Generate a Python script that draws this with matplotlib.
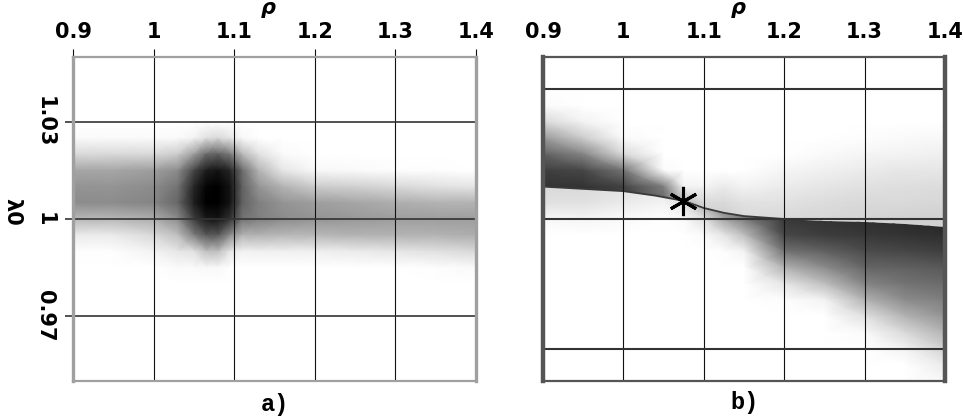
import numpy as np
import matplotlib
matplotlib.use("Agg")
import matplotlib.pyplot as plt
from matplotlib.patches import Polygon

# ---- data ---------------------------------------------------------------
X_TICKS = [0.9, 1.0, 1.1, 1.2, 1.3, 1.4]
X_TICK_LABELS = ["0.9", "1", "1.1", "1.2", "1.3", "1.4"]
A_Y_TICKS = [0.97, 1.0, 1.03]
A_Y_TICK_LABELS = ["0.97", "1", "1.03"]
B_Y_TICKS = [0.96, 1.0, 1.04]

# panel a: darkness (0 white .. 1 black) on an irregular grid, rows = A_Y
A_X = [0.9, 0.95, 1.0, 1.03, 1.05, 1.065, 1.08, 1.095, 1.11, 1.13, 1.16, 1.2, 1.25, 1.3, 1.35, 1.4]
A_Y = [1.05, 1.03, 1.025, 1.02, 1.015, 1.01, 1.005, 1.0, 0.995, 0.99, 0.985, 0.98, 0.95]
A_DARK = [
    [0] * 16,
    [0] * 16,
    [0.02, 0.02, 0.02, 0.02, 0.05, 0.12, 0.15, 0.10, 0.03, 0, 0, 0, 0, 0, 0, 0],
    [0.15, 0.15, 0.15, 0.20, 0.38, 0.58, 0.62, 0.52, 0.28, 0.12, 0.02, 0, 0, 0, 0, 0],
    [0.35, 0.35, 0.38, 0.45, 0.72, 0.88, 0.92, 0.85, 0.58, 0.30, 0.10, 0.03, 0.02, 0.01, 0.01, 0],
    [0.42, 0.42, 0.45, 0.55, 0.85, 0.98, 1.00, 0.92, 0.62, 0.42, 0.30, 0.20, 0.18, 0.15, 0.12, 0.10],
    [0.45, 0.45, 0.48, 0.60, 0.88, 1.00, 1.00, 0.92, 0.62, 0.50, 0.42, 0.38, 0.35, 0.32, 0.30, 0.30],
    [0.28, 0.28, 0.32, 0.45, 0.75, 0.90, 0.92, 0.80, 0.55, 0.50, 0.45, 0.42, 0.40, 0.38, 0.38, 0.38],
    [0.08, 0.08, 0.15, 0.25, 0.50, 0.65, 0.65, 0.45, 0.30, 0.30, 0.28, 0.28, 0.30, 0.30, 0.30, 0.32],
    [0.01, 0.01, 0.05, 0.10, 0.12, 0.25, 0.25, 0.10, 0.05, 0.06, 0.06, 0.06, 0.08, 0.10, 0.12, 0.15],
    [0, 0, 0, 0.02, 0.02, 0.03, 0.03, 0, 0, 0, 0, 0, 0, 0, 0.01, 0.02],
    [0] * 16,
    [0] * 16,
]

# panel b: boundary curve, and the fields above / below it
B_X = [0.9, 0.95, 1.0, 1.05, 1.075, 1.1, 1.125, 1.15, 1.2, 1.25, 1.3, 1.35, 1.4]
CURVE_X = [0.9, 0.95, 1.0, 1.04, 1.075, 1.1, 1.125, 1.15, 1.2, 1.25, 1.3, 1.35, 1.4]
CURVE_Y = [1.010, 1.0093, 1.0086, 1.0072, 1.0056, 1.0034, 1.0019, 1.0009, 1.0, 0.9995, 0.999, 0.9985, 0.9975]

B_UP_Y = [1.05, 1.04, 1.035, 1.03, 1.025, 1.02, 1.015, 1.01, 1.005, 1.0, 0.995]
B_UP_DARK = [  # rows = B_UP_Y, cols = B_X
    [0] * 13,
    [0] * 13,
    [0.02, 0, 0, 0, 0, 0, 0, 0, 0, 0, 0, 0, 0],
    [0.15, 0.05, 0, 0, 0, 0, 0, 0, 0, 0, 0, 0, 0],
    [0.40, 0.20, 0.02, 0, 0, 0, 0, 0, 0, 0, 0.01, 0.02, 0.03],
    [0.62, 0.48, 0.15, 0, 0, 0, 0, 0, 0, 0.02, 0.04, 0.05, 0.06],
    [0.75, 0.72, 0.55, 0.02, 0, 0, 0, 0, 0.04, 0.06, 0.08, 0.10, 0.10],
    [0.80, 0.80, 0.74, 0.50, 0.05, 0.05, 0.08, 0.05, 0.08, 0.10, 0.12, 0.13, 0.14],
    [0.80, 0.80, 0.74, 0.62, 0.30, 0.15, 0.15, 0.12, 0.12, 0.14, 0.15, 0.15, 0.16],
    [0.80, 0.80, 0.74, 0.62, 0.30, 0.20, 0.20, 0.15, 0.15, 0.16, 0.17, 0.18, 0.18],
    [0.80, 0.80, 0.74, 0.62, 0.30, 0.20, 0.20, 0.15, 0.15, 0.16, 0.17, 0.18, 0.18],
]

B_LO_Y = [1.015, 1.01, 1.005, 1.0, 0.995, 0.99, 0.985, 0.98, 0.975, 0.97, 0.965, 0.96, 0.955, 0.95]
B_LO_COLS = [  # one list per B_X column, top to bottom along B_LO_Y
    [0.15, 0.15, 0.12, 0.03, 0, 0, 0, 0, 0, 0, 0, 0, 0, 0],
    [0.15, 0.15, 0.12, 0.04, 0, 0, 0, 0, 0, 0, 0, 0, 0, 0],
    [0.12, 0.12, 0.08, 0.02, 0, 0, 0, 0, 0, 0, 0, 0, 0, 0],
    [0.10, 0.10, 0.05, 0, 0, 0, 0, 0, 0, 0, 0, 0, 0, 0],
    [0.20, 0.20, 0.10, 0.02, 0, 0, 0, 0, 0, 0, 0, 0, 0, 0],
    [0.45, 0.45, 0.35, 0.12, 0.02, 0, 0, 0, 0, 0, 0, 0, 0, 0],
    [0.60, 0.60, 0.55, 0.35, 0.10, 0.01, 0, 0, 0, 0, 0, 0, 0, 0],
    [0.70, 0.70, 0.68, 0.50, 0.25, 0.05, 0, 0, 0, 0, 0, 0, 0, 0],
    [0.80, 0.80, 0.80, 0.78, 0.72, 0.55, 0.30, 0.10, 0.01, 0, 0, 0, 0, 0],
    [0.82, 0.82, 0.82, 0.80, 0.76, 0.62, 0.45, 0.25, 0.05, 0, 0, 0, 0, 0],
    [0.84, 0.84, 0.84, 0.82, 0.78, 0.70, 0.60, 0.48, 0.30, 0.12, 0.02, 0, 0, 0],
    [0.85, 0.85, 0.85, 0.83, 0.80, 0.72, 0.62, 0.55, 0.45, 0.30, 0.15, 0.05, 0, 0],
    [0.87, 0.87, 0.87, 0.86, 0.82, 0.75, 0.65, 0.58, 0.50, 0.42, 0.30, 0.18, 0.08, 0.03],
]

STAR_X = [1.074]
STAR_Y = [1.0056]

# ---- figure ---------------------------------------------------------------
W, H = 963, 417
fig = plt.figure(figsize=(W / 100, H / 100), dpi=100)
fig.patch.set_facecolor("white")

ax_a = fig.add_axes([73 / W, 1 - 381 / H, 403 / W, 324 / H])
ax_b = fig.add_axes([543 / W, 1 - 381 / H, 402 / W, 324 / H])

tick_font = dict(family="DejaVu Sans", weight="bold", size=15)

for ax in (ax_a, ax_b):
    ax.set_xlim(0.9, 1.4)
    ax.set_ylim(0.95, 1.05)
    ax.xaxis.tick_top()
    ax.set_xticks(X_TICKS)
    ax.set_xticklabels(X_TICK_LABELS, fontdict=tick_font)
    ax.xaxis.grid(True, color="#111111", linewidth=0.8)
    ax.text(0.485, 1.15, "ρ", transform=ax.transAxes, ha="center", va="center",
            fontsize=15, fontweight="bold", fontstyle="italic")

# panel a
ax_a.pcolormesh(A_X, A_Y, np.array(A_DARK), shading="gouraud",
                cmap="gray_r", vmin=0, vmax=1, zorder=0)
ax_a.set_yticks(A_Y_TICKS)
ax_a.set_yticklabels(A_Y_TICK_LABELS, fontdict=tick_font, rotation=-90, va="center")
ax_a.yaxis.grid(True, color="#333333", linewidth=1.2)
ax_a.tick_params(axis="x", direction="out", length=6, width=0.8, color="#111111", pad=5)
ax_a.tick_params(axis="y", direction="out", length=6, width=1.2, color="#333333", pad=7)
for side, sp in ax_a.spines.items():
    sp.set_color("#a0a0a0")
    sp.set_linewidth(2.4 if side in ("left", "right") else 1.6)

# panel b
up_clip = Polygon([(0.9, 1.05)] + list(zip(CURVE_X, CURVE_Y)) + [(1.4, 1.05)],
                  closed=True, transform=ax_b.transData)
lo_clip = Polygon(list(zip(CURVE_X, CURVE_Y)) + [(1.4, 0.95), (0.9, 0.95)],
                  closed=True, transform=ax_b.transData)
m_up = ax_b.pcolormesh(B_X, B_UP_Y, np.array(B_UP_DARK), shading="gouraud",
                       cmap="gray_r", vmin=0, vmax=1, zorder=0)
m_up.set_clip_path(up_clip)
m_lo = ax_b.pcolormesh(B_X, B_LO_Y, np.array(B_LO_COLS).T, shading="gouraud",
                       cmap="gray_r", vmin=0, vmax=1, zorder=0)
m_lo.set_clip_path(lo_clip)

mid = [i for i, x in enumerate(CURVE_X) if x <= 1.2]
ax_b.plot([CURVE_X[i] for i in mid], [CURVE_Y[i] for i in mid],
          color="#3a3a3a", linewidth=1.3, zorder=1)
ax_b.plot(STAR_X, STAR_Y, linestyle="none", marker=(6, 2, 0), markersize=21,
          markeredgewidth=2.2, color="black", zorder=5)

ax_b.set_yticks(B_Y_TICKS)
ax_b.set_yticklabels([])
ax_b.yaxis.grid(True, color="#333333", linewidth=1.5)
ax_b.tick_params(axis="both", length=0)
ax_b.tick_params(axis="x", pad=11)
for side, sp in ax_b.spines.items():
    sp.set_color("#555555")
    sp.set_linewidth(3.2 if side in ("left", "right") else 1.6)

fig.text(12 / W, 1 - 212 / H, "λ0", rotation=-90, ha="center", va="center",
         fontsize=15, fontweight="bold")
fig.text(275 / W, 1 - 404 / H, "a)", ha="center", va="center",
         family="Liberation Mono", fontsize=17, fontweight="bold")
fig.text(744 / W, 1 - 403 / H, "b)", ha="center", va="center",
         family="Liberation Mono", fontsize=17, fontweight="bold")

fig.savefig("out.png", dpi=100, facecolor="white")
